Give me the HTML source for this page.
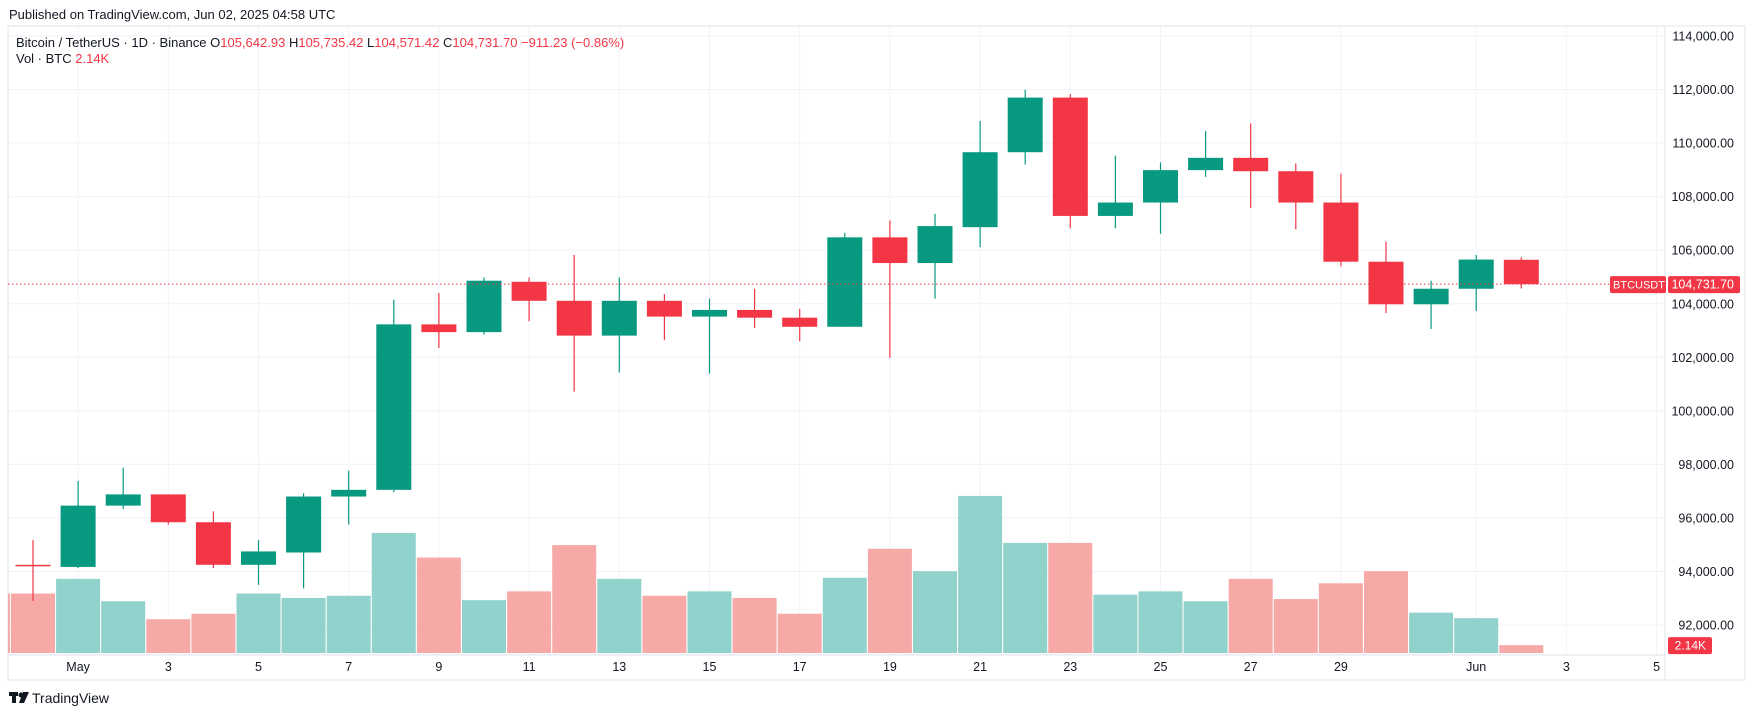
<!DOCTYPE html>
<html><head><meta charset="utf-8"><style>
html,body{margin:0;padding:0;background:#fff;}
body{width:1755px;height:716px;overflow:hidden;font-family:"Liberation Sans",sans-serif;}
svg text{font-family:"Liberation Sans",sans-serif;}
</style></head><body>
<svg id="chart" width="1755" height="716" viewBox="0 0 1755 716" xmlns="http://www.w3.org/2000/svg">
<rect x="0" y="0" width="1755" height="716" fill="#fff"/>
<text x="9" y="19" font-size="13" fill="#131722">Published on TradingView.com, Jun 02, 2025 04:58 UTC</text>
<rect x="8" y="26" width="1737" height="654" fill="none" stroke="#e0e3eb" stroke-width="1"/>
<g id="grid"></g>
<g id="vol"></g>
<g id="candles"></g>
<g id="axes"></g>
<text x="16" y="47" font-size="13" fill="#131722">Bitcoin / TetherUS · 1D · Binance <tspan>O</tspan><tspan fill="#f23645">105,642.93</tspan> <tspan>H</tspan><tspan fill="#f23645">105,735.42</tspan> <tspan>L</tspan><tspan fill="#f23645">104,571.42</tspan> <tspan>C</tspan><tspan fill="#f23645">104,731.70</tspan> <tspan fill="#f23645">−911.23 (−0.86%)</tspan></text>
<text x="16" y="63" font-size="13" fill="#131722">Vol · BTC <tspan fill="#f23645">2.14K</tspan></text>
<g><rect x="9" y="692" width="9" height="4" fill="#131722"/><rect x="12" y="692" width="4" height="11" fill="#131722"/><circle cx="21" cy="695" r="2.5" fill="#131722"/><polygon points="23,692 29,692 24,703 19,703" fill="#131722"/><text x="32" y="703" font-size="14" fill="#131722">TradingView</text></g>
</svg>
<script>
const dates=["Apr30","May1","May2","May3","May4","May5","May6","May7","May8","May9","May10","May11","May12","May13","May14","May15","May16","May17","May18","May19","May20","May21","May22","May23","May24","May25","May26","May27","May28","May29","May30","May31","Jun1","Jun2"];
const opens=[94250,94170,96460,96880,95840,94250,94710,96800,97050,103230,102940,104820,104110,102810,104110,103520,103770,103480,103140,106480,105520,106860,109660,111700,107280,107780,108990,109450,108950,107780,105570,103980,104560,105642.93];
const highs=[95170,97380,97880,96880,96250,95170,96920,97760,104150,104400,104980,104980,105820,104980,104360,104190,104560,103810,106650,107110,107360,110830,111990,111830,109530,109280,110450,110740,109240,108860,106320,104860,105820,105735.42];
const lows=[92900,94130,96340,95750,94130,93500,93370,95750,96960,102350,102850,103350,100720,101430,102640,101390,103100,102600,103140,101980,104190,106110,109200,106820,106820,106610,108740,107570,106780,105400,103650,103060,103730,104571.42];
const closes=[94200,96460,96880,95840,94250,94750,96800,97050,103230,102940,104860,104110,102810,104110,103520,103770,103480,103140,106480,105520,106900,109660,111700,107280,107780,108990,109450,108950,107780,105570,103980,104560,105650,104731.70];
const volumes=[16.2,20.2,14.1,9.2,10.7,16.2,15.0,15.6,32.7,26.0,14.4,16.8,29.4,20.2,15.6,16.8,15.0,10.7,20.5,28.4,22.3,42.8,30.0,30.0,15.9,16.8,14.1,20.2,14.7,19.0,22.3,11.0,9.5,2.14];
const prevVolume=16.2;
const priceTicks=[92000,94000,96000,98000,100000,102000,104000,106000,108000,110000,112000,114000];
const timeLabels=["May","3","5","7","9","11","13","15","17","19","21","23","25","27","29","Jun","3","5"];
const timeLabelIdx=[1,3,5,7,9,11,13,15,17,19,21,23,25,27,29,32,34,36];
const lastPrice=104731.70;

const NS="http://www.w3.org/2000/svg";
const paneL=8,paneR=1665,volBase=653;
function xAt(i){return 33+i*45.1;}
function yAt(v){return 36+(114000-v)/2000*53.55;}
function vH(v){return v*3.67;}
function mk(tag,attrs,parent){const e=document.createElementNS(NS,tag);for(const k in attrs)e.setAttribute(k,attrs[k]);parent.appendChild(e);return e;}
const G=document.getElementById('grid'),V=document.getElementById('vol'),C=document.getElementById('candles'),A=document.getElementById('axes');
priceTicks.forEach(p=>{
  const y=yAt(p);
  const l=mk('line',{x1:paneL,x2:paneR,y1:y,y2:y,stroke:'#f0f3fa','stroke-width':1},G);
  
  
  const t=mk('text',{x:1734,y:y+4.5,'font-size':12.5,fill:'#131722','text-anchor':'end'},A);
  t.textContent=p.toLocaleString('en-US',{minimumFractionDigits:2});
  
  
});
timeLabels.forEach((s,k)=>{
  const x=xAt(timeLabelIdx[k]);
  const l=mk('line',{x1:x,x2:x,y1:26,y2:655,stroke:'#f0f3fa','stroke-width':1},G);
  
  
  const t=mk('text',{x:x,y:671,'font-size':12.5,fill:'#131722','text-anchor':'middle'},A);
  t.textContent=s;
  
  
});
mk('line',{x1:paneL,x2:paneR,y1:655,y2:655,stroke:'#e0e3eb'},A);
mk('line',{x1:paneR,x2:paneR,y1:26,y2:680,stroke:'#e0e3eb'},A);
{const h=vH(prevVolume);const r=mk('rect',{x:paneL,y:volBase-h,width:xAt(-0.5)-paneL-0.5,height:h,fill:'#f7a9a7'},V);

}
dates.forEach((d,i)=>{
  const up=closes[i]>=opens[i];
  const h=vH(volumes[i]);
  const r=mk('rect',{x:xAt(i)-22,y:volBase-h,width:44,height:h,fill:up?'#92d2cc':'#f7a9a7'},V);
  
  
  const col=up?'#089981':'#f23645';
  const x=xAt(i);
  const w=mk('line',{x1:x,x2:x,y1:yAt(highs[i]),y2:yAt(lows[i]),stroke:col,'stroke-width':1.2},C);
  
  
  const t=yAt(Math.max(opens[i],closes[i])),b=yAt(Math.min(opens[i],closes[i]));
  const bd=mk('rect',{x:x-17.5,y:t,width:35,height:Math.max(b-t,1.5),fill:col},C);
  
  
});
const ly=yAt(lastPrice);
const pl=mk('line',{x1:paneL,x2:paneR,y1:ly,y2:ly,stroke:'#f23645','stroke-width':1,'stroke-dasharray':'1.5 2.5'},A);


const sb=mk('rect',{x:1610,y:ly-8,width:56,height:17,rx:2,fill:'#f23645'},A);


const st=mk('text',{x:1639,y:ly+4.5,'font-size':11,fill:'#fff','text-anchor':'middle'},A);
st.textContent='BTCUSDT';
const pb=mk('rect',{x:1668,y:ly-8,width:72,height:17,rx:2,fill:'#f23645'},A);


const pt=mk('text',{x:1734,y:ly+4.5,'font-size':12.5,fill:'#fff','text-anchor':'end'},A);
pt.textContent=lastPrice.toLocaleString('en-US',{minimumFractionDigits:2});
const vy=volBase-vH(volumes[volumes.length-1]);
const vb=mk('rect',{x:1668,y:vy-8,width:44,height:17,rx:2,fill:'#f23645'},A);


const vt=mk('text',{x:1706,y:vy+4.5,'font-size':12,fill:'#fff','text-anchor':'end'},A);
vt.textContent=volumes[volumes.length-1]+'K';
</script>
</body></html>
